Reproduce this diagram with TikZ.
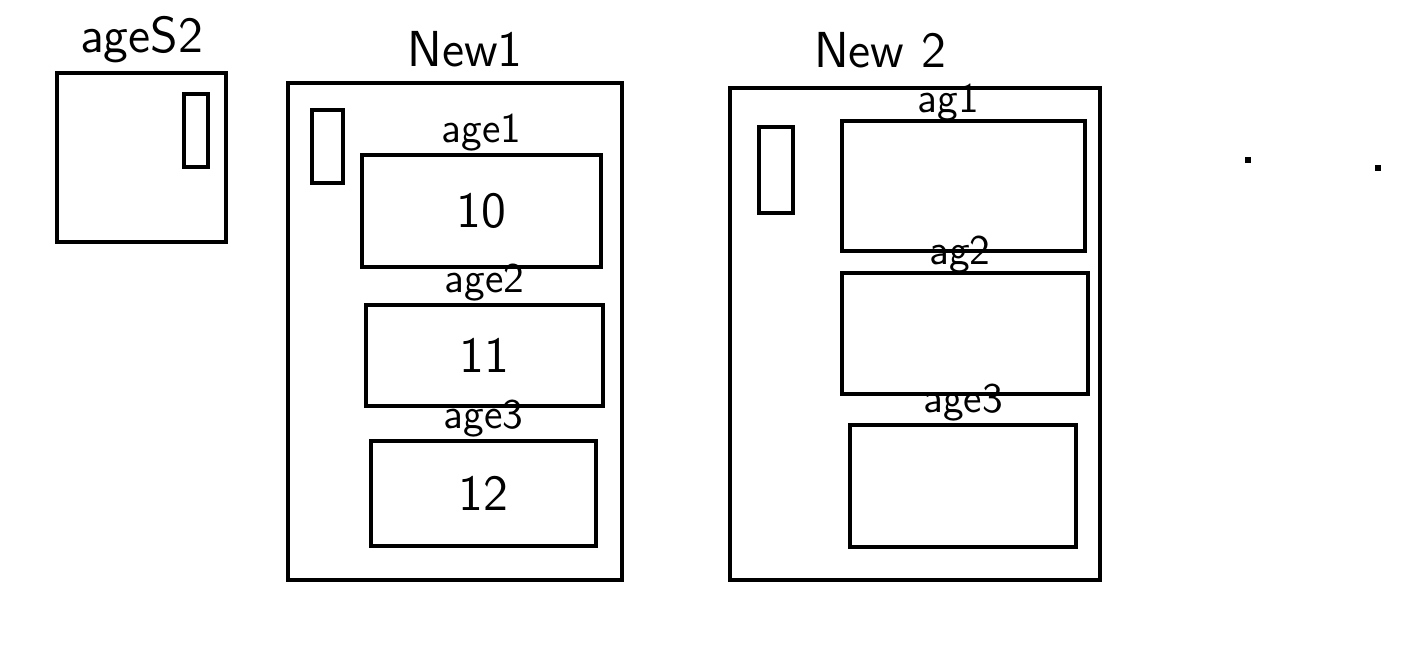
\documentclass[tikz,border=0pt]{standalone}
\usetikzlibrary{positioning}

\begin{document}
\begin{tikzpicture}[x=1cm, y=-1cm, node distance=0.06cm, line width=1.2pt,
    box/.style = {draw, rectangle, inner sep=0pt, font=\sffamily\Large},
    slot/.style = {draw, rectangle, inner sep=0pt, minimum width=0.3cm},
    lbl/.style = {font=\sffamily\large, inner sep=1pt},
    title/.style = {font=\sffamily\Large, inner sep=1pt},
    dot/.style = {fill, rectangle, inner sep=0pt, minimum size=0.06cm}]
      \useasboundingbox (0,0) rectangle (14.22,6.48);

      % ageS2
      \node[box, minimum width=1.69cm, minimum height=1.69cm] (s2) at (1.415,1.575) {};
      \node[slot, minimum width=0.24cm, minimum height=0.73cm] (s2slot) at (1.96,1.305) {};
      \node[title, above=0.02cm of s2] (s2lbl) {ageS2};

      % New1
      \node[box, minimum width=3.34cm, minimum height=4.97cm] (n1) at (4.55,3.315) {};
      \node[title, above=0.08cm of n1, xshift=0.1cm] (n1lbl) {New1};
      \node[slot, minimum width=0.31cm, minimum height=0.73cm] (n1slot) at (3.275,1.465) {};
      \node[box, minimum width=2.39cm, minimum height=1.12cm] (a1) at (4.815,2.11) {10};
      \node[lbl, above=-0.04cm of a1] (a1lbl) {age1};
      \node[box, minimum width=2.37cm, minimum height=1.01cm] (a2) at (4.845,3.555) {11};
      \node[lbl, above=-0.04cm of a2] (a2lbl) {age2};
      \node[box, minimum width=2.25cm, minimum height=1.05cm] (a3) at (4.835,4.935) {12};
      \node[lbl, above=-0.04cm of a3] (a3lbl) {age3};

      % New 2
      \node[box, minimum width=3.70cm, minimum height=4.92cm] (n2) at (9.15,3.34) {};
      \node[title, above=0.12cm of n2, xshift=-0.35cm] (n2lbl) {New 2};
      \node[slot, minimum width=0.34cm, minimum height=0.86cm] (n2slot) at (7.76,1.70) {};
      \node[box, minimum width=2.43cm, minimum height=1.30cm] (b1) at (9.635,1.86) {};
      \node[lbl, above=-0.08cm of b1, xshift=-0.15cm] (b1lbl) {ag1};
      \node[box, minimum width=2.46cm, minimum height=1.21cm] (b2) at (9.65,3.335) {};
      \node[lbl, above=-0.08cm of b2, xshift=-0.05cm] (b2lbl) {ag2};
      \node[box, minimum width=2.26cm, minimum height=1.22cm] (b3) at (9.63,4.86) {};
      \node[lbl, above=-0.04cm of b3] (b3lbl) {age3};

      % dots
      \node[dot] (d1) at (12.48,1.60) {};
      \node[dot] (d2) at (13.78,1.68) {};
    \end{tikzpicture}
\end{document}
